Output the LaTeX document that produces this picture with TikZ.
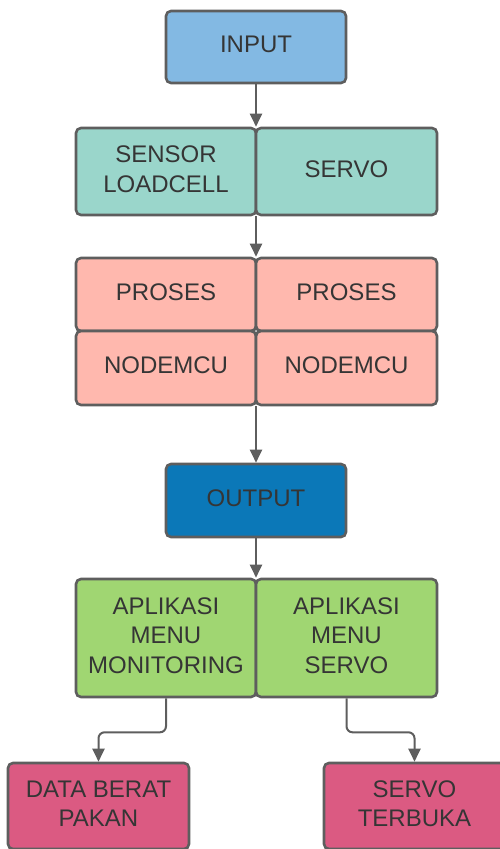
\documentclass[tikz,border=0pt]{standalone}
\usepackage{fontspec}
\setmainfont{Liberation Sans}
\usetikzlibrary{arrows.meta}
\definecolor{bordergray}{HTML}{5E5E5E}
\definecolor{textgray}{HTML}{353535}
\definecolor{inputblue}{HTML}{83B9E3}
\definecolor{teal}{HTML}{9AD6CB}
\definecolor{salmon}{HTML}{FFB8AE}
\definecolor{outblue}{HTML}{0B78B8}
\definecolor{lgreen}{HTML}{A0D672}
\definecolor{magent}{HTML}{DB5A82}
\tikzset{
  box/.style={draw=bordergray, line width=2.6pt, rounded corners=5pt, align=center,
    text=textgray, font=\fontsize{24}{29.5}\selectfont, inner sep=0pt, text depth=5pt},
  conn/.style={draw=bordergray, line width=2pt, rounded corners=6pt,
    -{Triangle[length=13pt,width=12pt]}},
}
\begin{document}
\begin{tikzpicture}[x=1pt,y=-1pt]
\useasboundingbox (0,0) rectangle (500,849);
\node[box, fill=inputblue, minimum width=180pt, minimum height=72pt] (input) at (256,47) {INPUT};
\node[box, fill=teal, minimum width=180pt, minimum height=87pt] (sensor) at (166,171.5) {SENSOR\\LOADCELL};
\node[box, fill=teal, minimum width=181pt, minimum height=87pt] (servo) at (346.5,171.5) {SERVO};
\node[box, fill=salmon, minimum width=180pt, minimum height=73pt] (p1) at (166,294.5) {PROSES};
\node[box, fill=salmon, minimum width=181pt, minimum height=73pt] (p2) at (346.5,294.5) {PROSES};
\node[box, fill=salmon, minimum width=180pt, minimum height=74pt] (n1) at (166,368) {NODEMCU};
\node[box, fill=salmon, minimum width=181pt, minimum height=74pt] (n2) at (346.5,368) {NODEMCU};
\node[box, fill=outblue, minimum width=180pt, minimum height=73pt] (output) at (256,500.5) {OUTPUT};
\node[box, fill=lgreen, minimum width=180pt, minimum height=118pt] (mon) at (166,638) {APLIKASI\\MENU\\MONITORING};
\node[box, fill=lgreen, minimum width=181pt, minimum height=118pt] (msrv) at (346.5,638) {APLIKASI\\MENU\\SERVO};
\node[box, fill=magent, minimum width=181pt, minimum height=86pt] (data) at (98.5,806) {DATA BERAT\\PAKAN};
\node[box, fill=magent, minimum width=181pt, minimum height=86pt] (buka) at (414.5,806) {SERVO\\TERBUKA};
\draw[conn] (input.south) -- (input.south |- sensor.north);
\draw[conn] (input.south |- sensor.south) -- (input.south |- p1.north);
\draw[conn] (input.south |- n1.south) -- (output.north);
\draw[conn] (output.south) -- (output.south |- mon.north);
\draw[conn] (mon.south) -- ++(0,34) -| (data.north);
\draw[conn] (msrv.south) -- ++(0,34) -| (buka.north);
\end{tikzpicture}
\end{document}
